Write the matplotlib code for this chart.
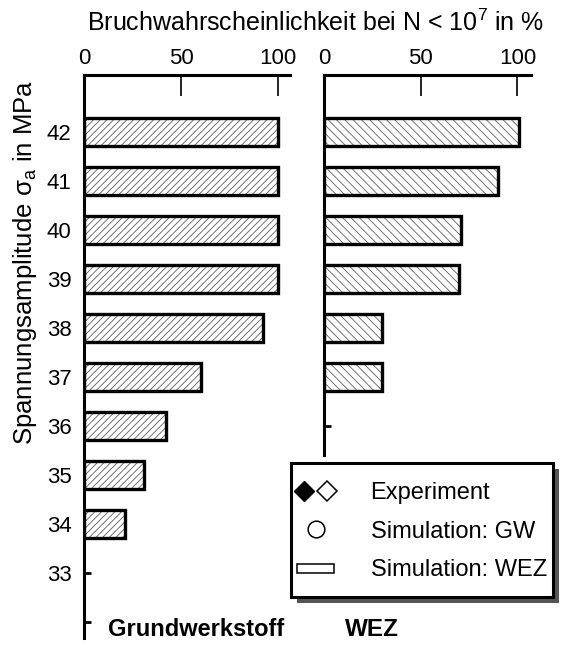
import numpy as np
import matplotlib.pyplot as plt
from matplotlib.lines import Line2D
from matplotlib.patches import Rectangle
from matplotlib.legend_handler import HandlerTuple, HandlerPatch

plt.rcParams['font.family'] = ['Liberation Sans', 'DejaVu Sans']
plt.rcParams['mathtext.fontset'] = 'custom'
plt.rcParams['mathtext.rm'] = 'Liberation Sans'
plt.rcParams['mathtext.it'] = 'Liberation Sans'
plt.rcParams['hatch.linewidth'] = 0.6

# stress amplitude levels (MPa) and failure probability (%)
levels_gw = [42, 41, 40, 39, 38, 37, 36, 35, 34]
prob_gw = [100, 100, 100, 100, 92, 60, 42, 31, 21]
levels_wez = [42, 41, 40, 39, 38, 37]
prob_wez = [101, 90, 71, 70, 30, 30]

W, H = 582, 648
fig = plt.figure(figsize=(W / 100, H / 100), dpi=100)

y_top = 43.16
px_per_unit = 49.0
top_px = 75


def make_axes(x0, x1, y_bottom, xmax):
    bottom_px = top_px + (y_top - y_bottom) * px_per_unit
    ax = fig.add_axes([x0 / W, 1 - bottom_px / H, (x1 - x0) / W, (bottom_px - top_px) / H])
    ax.set_xlim(0, xmax)
    ax.set_ylim(y_bottom, y_top)
    for s in ['right', 'bottom']:
        ax.spines[s].set_visible(False)
    for s in ['left', 'top']:
        ax.spines[s].set_linewidth(2.2)
    ax.xaxis.tick_top()
    ax.set_xticks([0, 50, 100])
    ax.tick_params(axis='x', direction='in', length=15, width=1.2, labelsize=16, pad=4)
    ax.tick_params(axis='y', direction='in', length=5, width=2, labelsize=16, pad=9)
    ax.patch.set_alpha(0)
    return ax


def draw_bars(ax, levels, probs, hatch):
    ax.barh(levels, probs, height=0.58, color='white', edgecolor='#606060',
            linewidth=0, hatch=hatch, zorder=2)
    ax.barh(levels, probs, height=0.58, fill=False, edgecolor='black',
            linewidth=2.4, zorder=3)


ax1 = make_axes(84, 290, 31.67, 106)
ax1.set_yticks(range(32, 43))
ax1.set_yticklabels([''] + [str(v) for v in range(33, 43)])
draw_bars(ax1, levels_gw, prob_gw, '/////')

ax2 = make_axes(324, 531, 35.4, 107)
ax2.set_yticks(range(36, 43))
ax2.set_yticklabels([])
draw_bars(ax2, levels_wez, prob_wez, '\\\\\\\\')

fig.text(316 / W, 1 - 23 / H, 'Bruchwahrscheinlichkeit bei N < 10$^7$ in %',
         ha='center', va='center', fontsize=18)
fig.text(25 / W, 1 - 262 / H, 'Spannungsamplitude $\\mathrm{\\sigma_a}$ in MPa',
         rotation=90, ha='center', va='center', fontsize=18.5)
fig.text(108 / W, 1 - 630 / H, 'Grundwerkstoff', fontsize=17, fontweight='bold',
         ha='left', va='center')
fig.text(345 / W, 1 - 630 / H, 'WEZ', fontsize=17.5, fontweight='bold',
         ha='left', va='center')

# legend frame + shadow drawn by hand
box_x0, box_x1, box_y0, box_y1 = 291, 553, 463, 597
fig.patches.append(Rectangle(((box_x0 + 6) / W, 1 - (box_y1 + 6) / H),
                             (box_x1 - box_x0) / W, (box_y1 - box_y0) / H,
                             transform=fig.transFigure, facecolor='#555555',
                             edgecolor='none', zorder=4))
fig.patches.append(Rectangle((box_x0 / W, 1 - box_y1 / H),
                             (box_x1 - box_x0) / W, (box_y1 - box_y0) / H,
                             transform=fig.transFigure, facecolor='white',
                             edgecolor='black', linewidth=2.2, zorder=4.5))


def small_rect(legend, orig_handle, xdescent, ydescent, width, height, fontsize):
    return Rectangle((-xdescent + 0.05 * width, -ydescent + 0.2 * height),
                     0.9 * width, 0.55 * height)


h_exp = (Line2D([], [], ls='none', marker='D', ms=10, mfc='black', mec='black'),
         Line2D([], [], ls='none', marker='D', ms=10, mfc='white', mec='black', mew=1.1))
h_gw = Line2D([], [], ls='none', marker='o', ms=12, mfc='white', mec='black', mew=1.1)
h_wez = Rectangle((0, 0), 1, 1, facecolor='white', edgecolor='black', linewidth=1.1)
leg = fig.legend([h_exp, h_gw, h_wez], ['Experiment', 'Simulation: GW', 'Simulation: WEZ'],
                 handler_map={tuple: HandlerTuple(ndivide=None, pad=0.25),
                              Rectangle: HandlerPatch(patch_func=small_rect)},
                 loc='center left',
                 bbox_to_anchor=((box_x0 + 4) / W, 1 - (box_y0 + box_y1 + 3) / 2 / H),
                 fontsize=17, frameon=False, borderpad=0.0, labelspacing=0.7,
                 handlelength=1.75, handletextpad=1.45, borderaxespad=0)
leg.set_zorder(5)

fig.savefig('out.png', dpi=100)
